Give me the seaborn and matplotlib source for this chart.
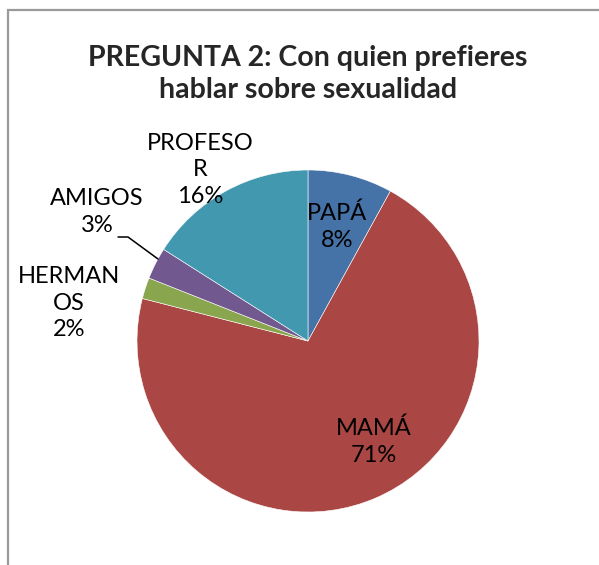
import matplotlib
matplotlib.use("Agg")
import matplotlib.pyplot as plt
import seaborn as sns
from matplotlib.patches import Rectangle

# data
categories = ["PAPÁ", "MAMÁ", "HERMANOS", "AMIGOS", "PROFESOR"]
label_text = ["PAPÁ\n8%", "MAMÁ\n71%", "HERMAN\nOS\n2%", "AMIGOS\n3%", "PROFESO\nR\n16%"]
shares = [8, 71, 2, 3, 16]
colors = ["#4572A7", "#AA4643", "#89A54E", "#71588F", "#4198AF"]

W, H = 599, 565

sns.set_theme(style="white")
plt.rcParams["font.family"] = ["Lato", "DejaVu Sans"]

fig = plt.figure(figsize=(W / 100, H / 100), dpi=100)
ax = fig.add_axes([0, 0, 1, 1])


def py(y):
    # image row -> data y
    return H - y


ax.add_patch(Rectangle((8, py(H + 20)), W + 20, H + 10, fill=False,
                       edgecolor="#9a9a9a", linewidth=1.6))

wedges, _ = ax.pie(
    shares,
    colors=sns.color_palette(colors),
    startangle=90,
    counterclock=False,
    center=(308, py(341)),
    radius=171,
    wedgeprops=dict(edgecolor="white", linewidth=0.4),
    frame=True,
)
ax.set_xlim(0, W)
ax.set_ylim(0, H)
ax.set_aspect("equal")
ax.axis("off")

label_pos = [(337, 227), (374, 442), (69, 303), (97, 212), (200, 170)]
for txt, (x, y) in zip(label_text, label_pos):
    ax.text(x, py(y), txt, ha="center", va="center", fontsize=17,
            color="black", linespacing=1.35)

# leader line for AMIGOS
ax.plot([118, 128, 158], [py(237), py(237), py(259)], color="black", lw=1.1)

ax.text(308, py(74), "PREGUNTA 2: Con quien prefieres\nhablar sobre sexualidad",
        ha="center", va="center", fontsize=20.5, fontweight="bold",
        linespacing=1.25)

fig.savefig("out.png", dpi=100)
